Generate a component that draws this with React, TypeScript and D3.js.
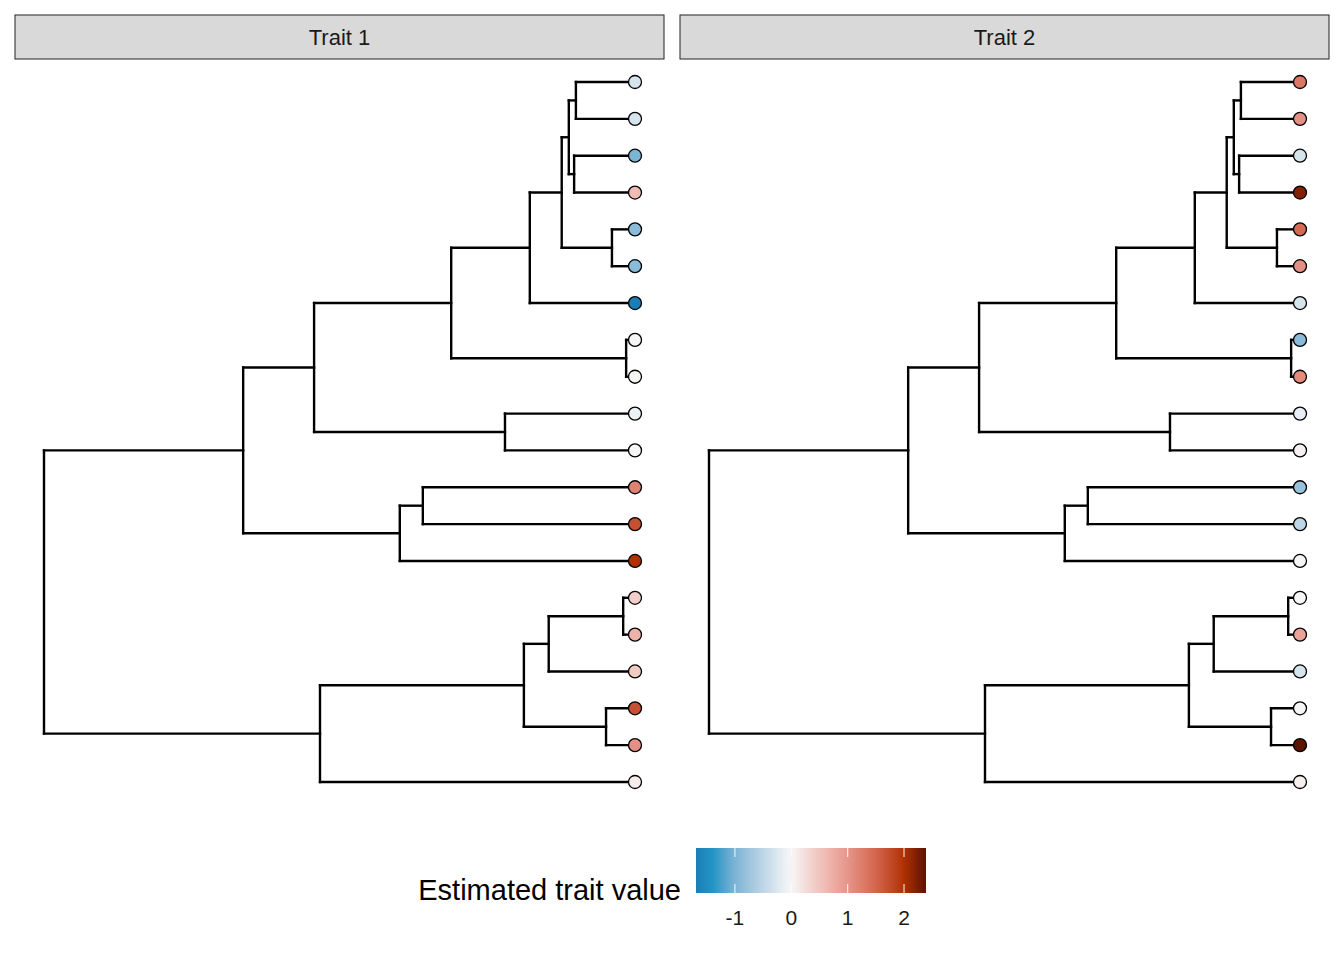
import React from 'react';
import * as d3 from 'd3';

// tree shared by both panels, branch lengths in % of root-to-tip height
const treeNewick =
  '((((((((t1:10.0,t2:10.0):1.2,(t3:10.3,t4:10.3):0.9):1.2,(t5:3.9,t6:3.9):8.5):5.4,t7:17.8):13.3,(t8:1.5,t9:1.5):29.6):23.2,(t10:22.0,t11:22.0):32.3):12.0,((t12:35.9,t13:35.9):3.9,t14:39.8):26.5):33.7,((((t15:2.0,t16:2.0):12.6,t17:14.6):4.2,(t18:4.9,t19:4.9):13.9):34.5,t20:53.3):46.7);';

const traitNames = ['Trait 1', 'Trait 2'];
const tipLabels = ['t1', 't2', 't3', 't4', 't5', 't6', 't7', 't8', 't9', 't10',
  't11', 't12', 't13', 't14', 't15', 't16', 't17', 't18', 't19', 't20'];
const trait1 = [-0.3, -0.3, -1.0, 0.6, -0.9, -0.9, -1.69, 0.02, 0.03, -0.12,
  0.02, 1.2, 1.7, 2.0, 0.4, 0.7, 0.45, 1.7, 1.05, 0.1];
const trait2 = [1.3, 1.05, -0.3, 2.2, 1.45, 1.05, -0.3, -0.9, 1.1, -0.15,
  0.06, -0.8, -0.5, 0.03, 0.02, 0.85, -0.3, 0.02, 2.39, 0.08];

const colorStops = [-1.69, -1.35, -1.0, -0.5, -0.1, 0, 0.3, 1.0, 1.5, 2.0, 2.39];
const colorValues = ['#1a7fb6', '#2597c6', '#7cb4d4', '#bed6e7', '#eef2f5', '#f7f7f7',
  '#f3d8d5', '#e6958a', '#d3654d', '#b03000', '#5a1400'];
const legendTicks = [-1, 0, 1, 2];

interface TNode { name: string; length: number; children?: TNode[] }

function parseNewick(s: string): TNode {
  let i = 0;
  const node = (): TNode => {
    const n: TNode = { name: '', length: 0 };
    if (s[i] === '(') {
      n.children = [];
      i++;
      n.children.push(node());
      while (s[i] === ',') { i++; n.children.push(node()); }
      i++; // ')'
    }
    let name = '';
    while (i < s.length && !',():;'.includes(s[i])) name += s[i++];
    n.name = name;
    if (s[i] === ':') {
      i++;
      let len = '';
      while (i < s.length && !',();'.includes(s[i])) len += s[i++];
      n.length = +len;
    }
    return n;
  };
  return node();
}

const W = 1344;
const H = 960;
const font = '"Liberation Sans", Arial, Helvetica, sans-serif';
const lw = 2.4;

const Panel: React.FC<{ x0: number; values: number[]; title: string; color: (v: number) => string }> = ({ x0, values, title, color }) => {
  const root = d3.hierarchy(parseNewick(treeNewick));
  const depth = new Map<any, number>();
  root.eachBefore((n) => depth.set(n, n.parent ? depth.get(n.parent)! + n.data.length : 0));

  const leaves = root.leaves();
  const yScale = d3.scaleLinear().domain([1, leaves.length]).range([82, 782]);
  const xScale = d3.scaleLinear().domain([0, 100]).range([x0 + 29, x0 + 620]);

  const yPos = new Map<any, number>();
  leaves.forEach((l, i) => yPos.set(l, yScale(i + 1)));
  root.eachAfter((n) => {
    if (n.children) yPos.set(n, d3.mean(n.children, (c) => yPos.get(c)!)!);
  });

  const valueOf = (name: string) => values[tipLabels.indexOf(name)];
  const nodes = root.descendants();

  return (
    <g>
      <rect x={x0} y={15} width={649} height={44} fill="#d9d9d9" stroke="#333333" strokeWidth={1.1} />
      <text x={x0 + 324.5} y={45} textAnchor="middle" fontSize={22} fill="#1a1a1a" fontFamily={font}>{title}</text>
      {nodes.filter((n) => n.parent).map((n, i) => (
        <line key={'h' + i} x1={xScale(depth.get(n.parent)!)} x2={xScale(depth.get(n)!)}
          y1={yPos.get(n)} y2={yPos.get(n)} stroke="#000" strokeWidth={lw} strokeLinecap="square" />
      ))}
      {nodes.filter((n) => n.children).map((n, i) => {
        const ys = n.children!.map((c) => yPos.get(c)!);
        return (
          <line key={'v' + i} x1={xScale(depth.get(n)!)} x2={xScale(depth.get(n)!)}
            y1={d3.min(ys)} y2={d3.max(ys)} stroke="#000" strokeWidth={lw} strokeLinecap="square" />
        );
      })}
      {leaves.map((l, i) => (
        <circle key={'c' + i} cx={xScale(depth.get(l)!)} cy={yPos.get(l)} r={6.5}
          fill={color(valueOf(l.data.name))} stroke="#000" strokeWidth={1.3} />
      ))}
    </g>
  );
};

export default function App() {
  const color = d3.scaleLinear<string>().domain(colorStops).range(colorValues)
    .interpolate(d3.interpolateLab).clamp(true);
  const legendScale = d3.scaleLinear().domain([colorStops[0], colorStops[colorStops.length - 1]]).range([696, 926]);
  const lx0 = legendScale.range()[0];
  const lwid = legendScale.range()[1] - lx0;
  const ly = 848;
  const lh = 45;

  return (
    <div style={{ position: 'absolute', left: 0, top: 0 }}>
      <svg width={W} height={H} style={{ display: 'block', background: '#fff' }}>
        <defs>
          <linearGradient id="legendGrad" x1="0" x2="1" y1="0" y2="0">
            {d3.range(0, 41).map((k) => {
              const v = colorStops[0] + (k / 40) * (colorStops[colorStops.length - 1] - colorStops[0]);
              return <stop key={k} offset={`${(k / 40) * 100}%`} stopColor={color(v)} />;
            })}
          </linearGradient>
        </defs>
        <Panel x0={15} values={trait1} title={traitNames[0]} color={color} />
        <Panel x0={680} values={trait2} title={traitNames[1]} color={color} />

        <text x={681} y={900} textAnchor="end" fontSize={29} fill="#000" fontFamily={font}>Estimated trait value</text>
        <rect x={lx0} y={ly} width={lwid} height={lh} fill="url(#legendGrad)" />
        {legendTicks.map((t) => (
          <g key={t}>
            <line x1={legendScale(t)} x2={legendScale(t)} y1={ly} y2={ly + 9} stroke="#fff" strokeWidth={1.2} opacity={0.8} />
            <line x1={legendScale(t)} x2={legendScale(t)} y1={ly + lh - 9} y2={ly + lh} stroke="#fff" strokeWidth={1.2} opacity={0.8} />
            <text x={legendScale(t)} y={925} textAnchor="middle" fontSize={21} fill="#1a1a1a" fontFamily={font}>{t}</text>
          </g>
        ))}
      </svg>
    </div>
  );
}
